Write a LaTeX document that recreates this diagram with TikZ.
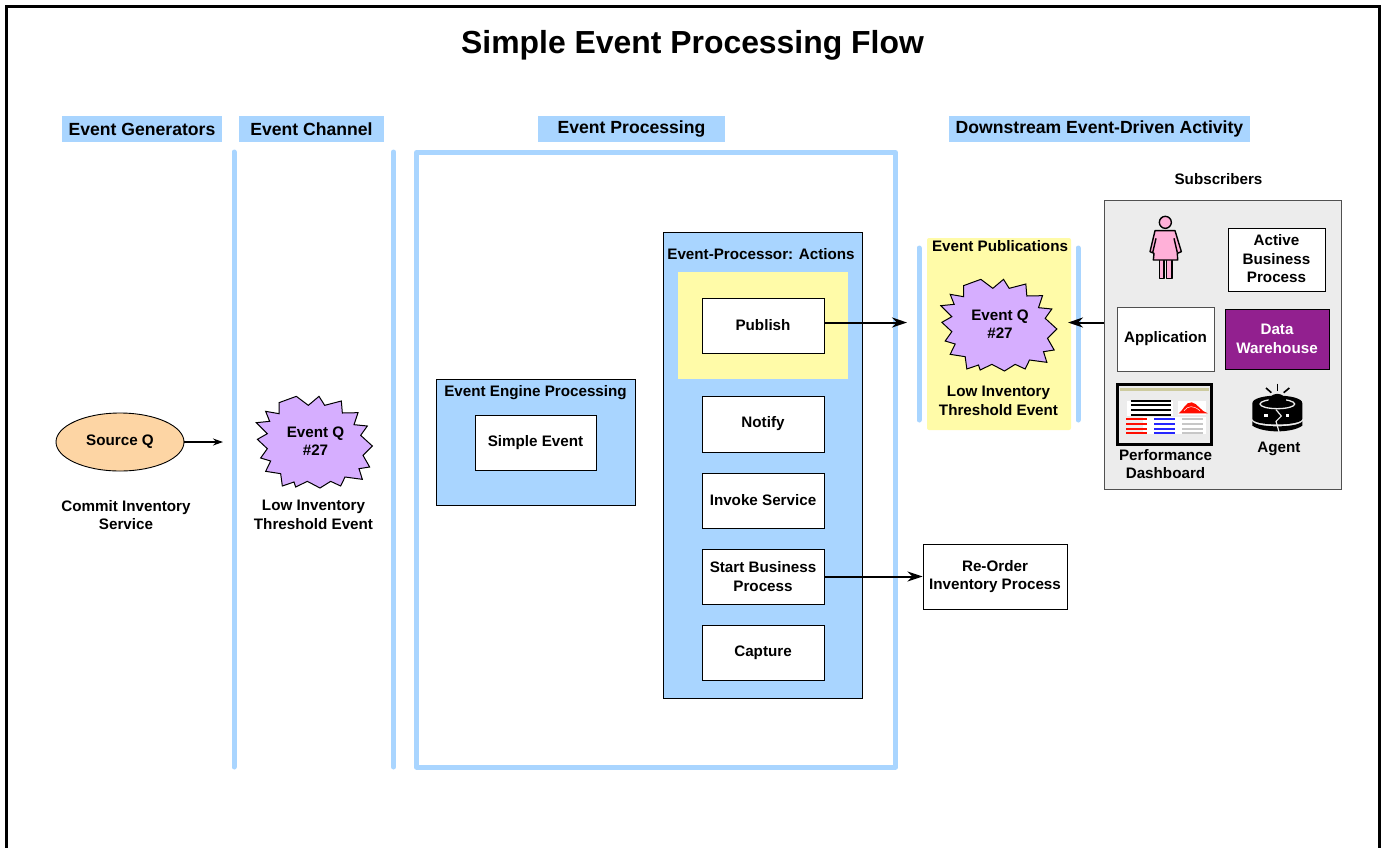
\documentclass[tikz,border=0pt]{standalone}
\usepackage{fontspec}
\usetikzlibrary{shapes.geometric,arrows.meta}
\setmainfont{Liberation Sans}
\definecolor{lblue}{HTML}{A9D5FF}
\definecolor{lyellow}{HTML}{FFFBA8}
\definecolor{lpurple}{HTML}{D6AEFF}
\definecolor{lorange}{HTML}{FDD5A4}
\definecolor{dwpurple}{HTML}{92208F}
\definecolor{lpink}{HTML}{FFB0D8}
\definecolor{subgrey}{HTML}{ECECEC}
\definecolor{subedge}{HTML}{505050}
\tikzset{
  x=1pt,y=-1pt,
  lbl/.style={font=\bfseries\fontsize{15.2}{18.5}\selectfont,align=center,inner sep=0pt,text=black},
  hdr/.style={font=\bfseries\fontsize{17.6}{20}\selectfont,fill=lblue,inner sep=0pt,anchor=center},
  pblock/.style={draw=black,line width=.9pt,fill=white,lbl},
  panel/.style={draw=black,line width=.8pt,fill=lblue,inner sep=0pt},
  bluebar/.style={draw=lblue,line width=5pt,line cap=round},
  flow/.style={-{Stealth[length=15pt,width=10pt]},line width=2pt,shorten >=0pt},
  thinflow/.style={-{Stealth[length=10pt,width=7pt]},line width=1.3pt},
  burst/.pic={
    \draw[fill=lpurple,draw=black,line width=1pt,line join=miter,shift={(-88.33,-90)},scale=1/3]
      (160,152)--(212,133)--(248,160)--(280,133)--(297,160)--(347,147)--(350,183)--(397,182)--(385,218)
      --(425,222)--(405,250)--(440,282)--(412,310)--(432,345)--(400,350)--(410,382)--(358,375)--(345,402)
      --(315,388)--(283,408)--(245,388)--(210,405)--(205,390)--(170,402)--(165,365)--(120,358)--(135,327)
      --(105,318)--(125,290)--(95,262)--(125,245)--(92,212)--(132,208)--(120,178)--(160,185)--cycle;
  },
}
\newcommand{\boxat}[6][]{\node[#1,minimum width=#5-#3,minimum height=#6-#4] (#2) at ({(#3+#5)/2},{(#4+#6)/2}) {};}
\begin{document}
\begin{tikzpicture}
\useasboundingbox (0,0) rectangle (1383,847);
% outer frame
\draw[black,line width=2.2pt,miter limit=10] (6.5,860) -- (6.5,6.5) -- (1379.5,6.5) -- (1379.5,860);
\node[font=\bfseries\fontsize{31.9}{36}\selectfont,inner sep=0pt] (title) at (692.5,45) {Simple Event Processing Flow};
% headers
\node[hdr,minimum width=160pt,minimum height=26pt] (h1) at (142,129) {Event Generators};
\node[hdr,minimum width=145pt,minimum height=26pt] (h2) at (311.5,129) {Event Channel};
\node[hdr,minimum width=187pt,minimum height=26pt] (h3) at (631.5,129) {Event Processing};
\node[hdr,minimum width=301pt,minimum height=26pt] (h4) at (1099.5,129) {Downstream Event-Driven Activity};
% channel bars and processing frame
\draw[bluebar] (234,152) -- (234,767);
\draw[bluebar] (393.5,152) -- (393.5,767);
\draw[draw=lblue,line width=5pt,line join=round] (416.5,152.5) rectangle (895.5,767);
% source
\node[draw=black,line width=.9pt,fill=lorange,ellipse,minimum width=128pt,minimum height=58pt,inner sep=0pt,lbl] (src) at (120,442) {Source Q};
\coordinate (srcend) at (223,442);
\draw[thinflow] (src) -- (srcend);
\node[lbl] (srclbl) at (126,515) {Commit Inventory\\Service};
% channel burst
\pic (bone) at (314,442) {burst};
\node[lbl] (bonet) at (315.5,441) {Event Q\\\#27};
\node[lbl] (bonel) at (313.5,515) {Low Inventory\\Threshold Event};
% event engine
\boxat[panel]{eng}{436}{379}{635}{505}
\node[lbl] (engt) at (535.5,393) {Event Engine Processing};
\boxat[pblock]{simple}{475}{415}{596}{470}
\node[lbl] (simplet) at (simple) {Simple Event};
% actions
\boxat[panel]{act}{663}{232}{862}{698}
\node[lbl] (actt) at (761,254) {Event-Processor: Actions};
\boxat[fill=lyellow,inner sep=0pt]{pubbg}{678}{272}{848}{379}
\boxat[pblock]{pub}{702}{298}{824}{353}
\node[lbl] at (pub) {Publish};
\boxat[pblock]{notify}{702}{396}{824}{452}
\node[lbl] at (notify) {Notify};
\boxat[pblock]{invoke}{702}{473}{824}{528}
\node[lbl] at (invoke) {Invoke Service};
\boxat[pblock]{start}{702}{549}{824}{604}
\node[lbl] at (start) {Start Business\\Process};
\boxat[pblock]{capture}{702}{625}{824}{680}
\node[lbl] at (capture) {Capture};
% publications
\boxat[fill=lyellow,rounded corners=2pt,inner sep=0pt]{pubs}{927}{238}{1071}{430}
\draw[bluebar] (919,248) -- (919,420);
\draw[bluebar] (1078,248) -- (1078,420);
\node[lbl] (pubst) at (1000,246) {Event Publications};
\pic (btwo) at (998.5,325) {burst};
\node[lbl] (btwot) at (1000,324) {Event Q\\\#27};
\node[lbl] (btwol) at (998.5,401) {Low Inventory\\Threshold Event};
% re-order
\boxat[pblock]{reorder}{923}{544}{1067}{609}
\node[lbl] at (reorder) {Re-Order\\Inventory Process};
% subscribers
\node[lbl] (subt) at (1218.5,179) {Subscribers};
\boxat[draw=subedge,line width=.9pt,fill=subgrey,inner sep=0pt]{subs}{1104}{200}{1341}{489}
\boxat[pblock]{active}{1228}{228}{1325}{291}
\node[lbl] at (1276.5,259) {Active\\Business\\Process};
\boxat[pblock,draw=subedge]{app}{1117}{307}{1214}{371}
\node[lbl] at (app) {Application};
\boxat[draw=black,line width=.9pt,fill=dwpurple,inner sep=0pt]{dw}{1225}{309}{1329}{369}
\node[lbl,text=white] at (dw) {Data\\Warehouse};
% woman
\begin{scope}[shift={(1140,210)},scale=1/3,draw=black,line width=1.4pt,fill=lpink,line join=round]
  \filldraw (76,37) circle (18);
  \filldraw (58,148) rectangle (72,205);
  \filldraw (80,148) rectangle (96,205);
  \filldraw (45,62) -- (105,62) -- (124,125) -- (112,130) -- (113,150) -- (40,150) -- (42,130) -- (30,125) -- cycle;
  \draw (48,85) -- (38,128);
  \draw (102,85) -- (112,128);
\end{scope}
% dashboard
\begin{scope}[shift={(1110,378)},scale=1/3]
  \filldraw[draw=black,fill=subgrey,line width=2.6pt] (23,20) rectangle (305,199);
  \fill[fill=black!25!lyellow!70!subgrey] (30,29) rectangle (298,38);
  \fill[white] (52,68) rectangle (190,115);
  \fill[white] (205,68) rectangle (288,110);
  \fill[white] (100,118) rectangle (288,168);
  \foreach \yy in {68,82,96,110} \draw[black,line width=1.7pt] (63,\yy) -- (182,\yy);
  \foreach \yy in {124,138,152,166} {
    \draw[red!90!orange,line width=1.7pt] (48,\yy) -- (110,\yy);
    \draw[blue!85!white,line width=1.7pt] (132,\yy) -- (195,\yy);
    \draw[black!22,line width=1.7pt] (216,\yy) -- (278,\yy);
  }
  \fill[red!90!orange] (206,106) .. controls (222,95) and (225,72) .. (245,73) .. controls (262,75) and (272,100) .. (293,106) -- cycle;
  \draw[white,line width=.5pt] (222,98) .. controls (235,82) and (250,82) .. (270,98);
\end{scope}
\node[lbl] (dasht) at (1165.5,464) {Performance\\Dashboard};
% agent
\begin{scope}[shift={(1240,378)},scale=1/3]
  \draw[black,line width=1.6pt] (78,30) -- (94,44);
  \draw[black,line width=1.6pt] (112,17) -- (112,38);
  \draw[black,line width=1.6pt] (148,30) -- (131,44);
  \fill[black] (37,76) .. controls (37,45) and (187,45) .. (187,76) -- (187,122) .. controls (187,145) and (37,145) .. (37,122) -- cycle;
  \fill[black] (37,130) .. controls (50,150) and (174,150) .. (187,130) -- (187,143) .. controls (170,155) and (140,160) .. (112,160) .. controls (85,160) and (55,155) .. (37,143) -- cycle;
  \draw[subgrey,line width=1.3pt] (112,78) ellipse [x radius=52,y radius=14];
  \fill[black] (84,76) .. controls (84,38) and (140,38) .. (140,76) .. controls (140,88) and (84,88) .. (84,76) -- cycle;
  \fill[white] (73,107) rectangle (84,118);
  \fill[white] (137,107) rectangle (148,118);
  \draw[subgrey,line width=1.2pt] (108,95) -- (124,114) -- (108,130) -- (118,165);
\end{scope}
\node[lbl] (agentt) at (1279,449) {Agent};
% connectors
\coordinate (pubend) at (907,322.5);
\coordinate (subend) at (1068,322.5);
\draw[flow] (pub.east |- pubend) -- (pubend);
\draw[flow] (subs.west |- subend) -- (subend);
\draw[flow] (start.east |- 0,576.5) -- (reorder.west |- 0,576.5);
\end{tikzpicture}
\end{document}
